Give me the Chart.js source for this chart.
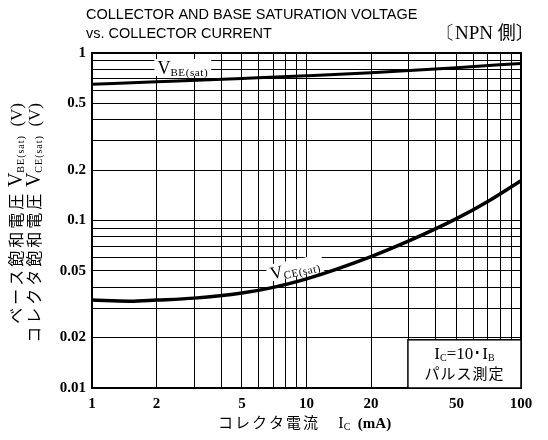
<!DOCTYPE html>
<html>
<head>
<meta charset="utf-8">
<script src="https://cdn.jsdelivr.net/npm/chart.js@4/dist/chart.umd.min.js"></script>
<style>
html, body { margin:0; padding:0; background:#fff; }
#wrap { width:548px; height:440px; }
</style>
</head>
<body>
<div id="wrap"><canvas id="c" width="548" height="440"></canvas></div>
<script>
// data
var vbeIc = [1, 2, 5, 10, 20, 50, 100];
var vbeV  = [0.65, 0.673, 0.705, 0.731, 0.762, 0.817, 0.867];
var vceIc = [1, 1.5, 2, 3, 5, 7, 10, 20, 30, 50, 70, 100];
var vceV  = [0.0335, 0.033, 0.0335, 0.0344, 0.0369, 0.0399, 0.0448, 0.0609, 0.0755, 0.1026, 0.130, 0.173];
var xGrid = [1,2,3,4,5,6,7,8,9,10,20,30,40,50,60,70,80,90,100];
var yGrid = [0.01,0.02,0.03,0.04,0.05,0.06,0.07,0.08,0.09,0.1,0.2,0.3,0.4,0.5,0.6,0.7,0.8,0.9,1];
var xLabels = [1, 2, 5, 10, 20, 50, 100];
var yLabels = [0.01, 0.02, 0.05, 0.1, 0.2, 0.5, 1];

function pts(xs, ys){
	var out = [];
	for (var i = 0; i < xs.length; i++) out.push({x: xs[i], y: ys[i]});
	return out;
}

var SERIF = '"Liberation Serif", "DejaVu Serif", serif';
var SANS = '"Liberation Sans", Arial, sans-serif';
var JP = '"Noto Sans CJK JP", sans-serif';

// draw a run of text pieces [text, font, dy, spacing] on one baseline
function run(ctx, parts, x, y){
	var w = 0;
	for (var i = 0; i < parts.length; i++){
		ctx.font = parts[i][1];
		ctx.letterSpacing = (parts[i][3] || 0) + 'px';
		ctx.fillText(parts[i][0], x + w, y + (parts[i][2] || 0));
		w += ctx.measureText(parts[i][0]).width;
	}
	ctx.letterSpacing = '0px';
	return w;
}
function runWidth(ctx, parts){
	var w = 0;
	for (var i = 0; i < parts.length; i++){
		ctx.font = parts[i][1];
		ctx.letterSpacing = (parts[i][3] || 0) + 'px';
		w += ctx.measureText(parts[i][0]).width;
	}
	ctx.letterSpacing = '0px';
	return w;
}

var extras = {
	id: 'extras',
	beforeDatasetsDraw: function(chart){
		var ctx = chart.ctx, a = chart.chartArea;
		var xs = chart.scales.x, ys = chart.scales.y;
		ctx.save();
		// frame
		ctx.strokeStyle = '#000';
		ctx.lineWidth = 2;
		ctx.strokeRect(a.left, a.top, a.right - a.left, a.bottom - a.top);

		// condition box
		var bx = xs.getPixelForValue(29.7), by = ys.getPixelForValue(0.0194);
		ctx.fillStyle = '#fff';
		ctx.fillRect(bx, by, a.right - bx, a.bottom - by);
		ctx.lineWidth = 1.5;
		ctx.strokeRect(bx, by, a.right - bx, a.bottom - by);
		ctx.restore();
	},
	afterDatasetsDraw: function(chart){
		var ctx = chart.ctx, a = chart.chartArea;
		var xs = chart.scales.x, ys = chart.scales.y;
		ctx.save();
		ctx.fillStyle = '#000';
		ctx.textBaseline = 'alphabetic';
		ctx.textAlign = 'left';

		// title
		ctx.font = '14.5px ' + SANS;
		ctx.fillText('COLLECTOR AND BASE SATURATION VOLTAGE', 86, 19);
		ctx.fillText('vs. COLLECTOR CURRENT', 86, 38);
		run(ctx, [['〔NPN ', '19px ' + SERIF], ['側〕', '18px ' + JP]], 436, 39);

		// curve labels
		var lp = [['V', '18px ' + SERIF], ['BE(sat)', '11px ' + SERIF, 2, 0.6]];
		var lw = runWidth(ctx, lp);
		var lx = xs.getPixelForValue(2.65), ly = ys.getPixelForValue(0.813);
		ctx.fillStyle = '#fff';
		ctx.fillRect(lx - lw / 2 - 3, ly - 9, lw + 6, 17);
		ctx.fillStyle = '#000';
		run(ctx, lp, lx - lw / 2, ly + 6);

		var cp = [['V', '18px ' + SERIF], ['CE(sat)', '11px ' + SERIF, 2, 0.6]];
		var cw = runWidth(ctx, cp);
		ctx.save();
		ctx.translate(xs.getPixelForValue(8.84), ys.getPixelForValue(0.0516));
		ctx.rotate(-0.2);
		ctx.fillStyle = '#fff';
		ctx.fillRect(-cw / 2 - 3, -9, cw + 6, 17);
		ctx.fillStyle = '#000';
		run(ctx, cp, -cw / 2, 6);
		ctx.restore();

		// condition text
		var bx = xs.getPixelForValue(29.7);
		var cx = (bx + a.right) / 2;
		var t1 = [['I', '17px ' + SERIF], ['C', '10px ' + SERIF, 2], ['=10･I', '17px ' + SERIF], ['B', '10px ' + SERIF, 2]];
		run(ctx, t1, cx - runWidth(ctx, t1) / 2, 359);
		var t2 = [['パルス測定', '15px ' + JP, 0, 1]];
		run(ctx, t2, cx - runWidth(ctx, t2) / 2, 379);

		// x axis title
		var xt = [['コレクタ電流', '15px ' + JP, 0, 2], ['　 ', '15px ' + JP], ['I', '16px ' + SERIF], ['C', '10px ' + SERIF, 2], ['  (mA)', 'bold 15px ' + SERIF]];
		run(ctx, xt, 218, 428);

		// y axis title, two rotated columns anchored at the top
		var c1 = [['ベース飽和電圧', '16px ' + JP, 0, 3], [' ', '16px ' + JP], ['V', '20px ' + SERIF], ['BE(sat)', '10px ' + SERIF, 2, 1], ['  (V)', '17px ' + SERIF]];
		var c2 = [['コレクタ飽和電圧', '16px ' + JP, 0, 3], [' ', '16px ' + JP], ['V', '20px ' + SERIF], ['CE(sat)', '10px ' + SERIF, 2, 1], ['  (V)', '17px ' + SERIF]];
		ctx.save();
		ctx.translate(22, 103);
		ctx.rotate(-Math.PI / 2);
		run(ctx, c1, -runWidth(ctx, c1), 0);
		ctx.restore();
		ctx.save();
		ctx.translate(40, 103);
		ctx.rotate(-Math.PI / 2);
		run(ctx, c2, -runWidth(ctx, c2), 0);
		ctx.restore();

		ctx.restore();
	}
};

new Chart(document.getElementById('c'), {
	type: 'scatter',
	data: {
		datasets: [{
			label: 'VBE(sat)',
			data: pts(vbeIc, vbeV),
			showLine: true,
			borderColor: '#000',
			borderWidth: 3,
			pointRadius: 0,
			cubicInterpolationMode: 'monotone'
		}, {
			label: 'VCE(sat)',
			data: pts(vceIc, vceV),
			showLine: true,
			borderColor: '#000',
			borderWidth: 3.5,
			pointRadius: 0,
			cubicInterpolationMode: 'monotone'
		}]
	},
	options: {
		responsive: false,
		animation: false,
		layout: { padding: { left: 0, top: 53, right: 27, bottom: 0 } },
		plugins: { legend: { display: false }, tooltip: { enabled: false } },
		scales: {
			x: {
				type: 'logarithmic',
				min: 1, max: 100,
				afterBuildTicks: function(s){ s.ticks = xGrid.map(function(v){ return {value: v}; }); },
				afterFit: function(s){ s.height = 52; },
				grid: { color: '#000', lineWidth: 1, drawTicks: false },
				border: { display: true, color: '#000', width: 2 },
				ticks: {
					autoSkip: false, maxRotation: 0, padding: 7,
					color: '#000',
					font: { family: SERIF, size: 15, weight: 'bold' },
					callback: function(v){ return xLabels.indexOf(v) >= 0 ? String(v) : ''; }
				}
			},
			y: {
				type: 'logarithmic',
				min: 0.01, max: 1,
				afterBuildTicks: function(s){ s.ticks = yGrid.map(function(v){ return {value: v}; }); },
				afterFit: function(s){ s.width = 92; },
				grid: { color: '#000', lineWidth: 1, drawTicks: false },
				border: { display: true, color: '#000', width: 2 },
				ticks: {
					autoSkip: false, padding: 6,
					color: '#000',
					font: { family: SERIF, size: 15, weight: 'bold' },
					callback: function(v){ return yLabels.indexOf(v) >= 0 ? String(v) : ''; }
				}
			}
		}
	},
	plugins: [extras]
});
</script>
</body>
</html>
